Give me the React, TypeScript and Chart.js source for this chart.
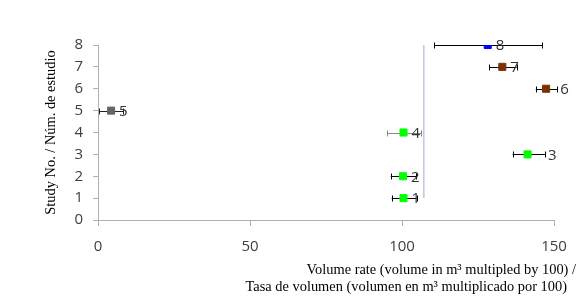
import React, { useEffect, useRef } from "react";
import { Chart, registerables } from "chart.js";

Chart.register(...registerables);

const studies = [1, 2, 3, 4, 5, 6, 7, 8];
const studyLabels = ["1", "2", "3", "4", "5", "6", "7", "8"];
const means = [100.5, 100.3, 141.3, 100.5, 4.3, 147.4, 133.0, 128.2];
const lower = [96.6, 96.3, 136.4, 95.2, 0.3, 144.0, 128.7, 110.6];
const upper = [104.8, 104.6, 147.0, 106.4, 8.3, 151.1, 137.7, 146.1];
const pointColors = ["#00FF00", "#00FF00", "#00FF00", "#00FF00", "#666666", "#7A3300", "#7A3300", "#0000FF"];
const barColors = ["#000000", "#000000", "#000000", "#888888", "#222222", "#000000", "#000000", "#000000"];
// studies whose label sits beyond the end of the error bar
const labelsPastBar = [3, 6];
const refValue = 107.2;
const refRange = [1, 8];
const xTitle = ["Volume rate (volume in m\u00B3 multipled by 100) /", "Tasa de volumen (volumen en m\u00B3 multiplicado por 100)"];
const yTitle = "Study No. / N\u00FAm. de estudio";

const TICK_FONT = "'Open Sans'";
const TITLE_FONT = "'Liberation Serif'";
const TITLE_SIZE = 14.4;

const errorBarPlugin = {
  id: "errorBars",
  beforeDatasetsDraw(chart: any) {
    const { ctx, scales } = chart;
    const xs = scales.x;
    const ys = scales.y;
    ctx.save();
    ctx.lineWidth = 1;
    studies.forEach((s, i) => {
      const y = Math.round(ys.getPixelForValue(s)) + 0.5;
      const x1 = xs.getPixelForValue(lower[i]);
      const x2 = xs.getPixelForValue(upper[i]);
      ctx.strokeStyle = barColors[i];
      ctx.beginPath();
      ctx.moveTo(x1, y);
      ctx.lineTo(x2, y);
      const c1 = Math.round(x1) + 0.5;
      const c2 = Math.round(x2) + 0.5;
      ctx.moveTo(c1, y - 3);
      ctx.lineTo(c1, y + 3);
      ctx.moveTo(c2, y - 3);
      ctx.lineTo(c2, y + 3);
      ctx.stroke();
    });
    ctx.restore();
  },
  afterDatasetsDraw(chart: any) {
    const { ctx, scales } = chart;
    const xs = scales.x;
    const ys = scales.y;
    ctx.save();
    ctx.font = "15px " + TICK_FONT;
    ctx.fillStyle = "#333333";
    ctx.textAlign = "left";
    ctx.textBaseline = "middle";
    studies.forEach((s, i) => {
      const past = labelsPastBar.includes(s);
      const x = past ? xs.getPixelForValue(upper[i]) + 3 : xs.getPixelForValue(means[i]) + 8;
      const y = ys.getPixelForValue(s);
      ctx.fillText(studyLabels[i], x, y + 1);
    });
    ctx.restore();
  },
  afterDraw(chart: any) {
    const { ctx } = chart;
    ctx.save();
    ctx.font = TITLE_SIZE + "px " + TITLE_FONT;
    ctx.fillStyle = "#000000";
    ctx.textAlign = "right";
    ctx.textBaseline = "middle";
    ctx.fillText(xTitle[0], 576, 270);
    ctx.fillText(xTitle[1], 567, 287);
    ctx.restore();
  },
};

export default function App() {
  const ref = useRef<HTMLCanvasElement>(null);
  useEffect(() => {
    document.body.style.margin = "0";
    const chart = new Chart(ref.current!, {
      type: "scatter",
      data: {
        datasets: [
          {
            type: "line",
            data: refRange.map((y) => ({ x: refValue, y })),
            borderColor: "#A8A8C8",
            borderWidth: 1,
            pointRadius: 0,
            fill: false,
          } as any,
          {
            data: studies.map((s, i) => ({ x: means[i], y: s })),
            pointStyle: "rect",
            pointRadius: 5,
            pointHoverRadius: 5,
            backgroundColor: pointColors,
            borderColor: pointColors,
            borderWidth: 1,
          },
        ],
      },
      options: {
        animation: false,
        responsive: false,
        maintainAspectRatio: false,
        layout: { padding: { top: 45, right: 31, left: 0, bottom: 0 } },
        plugins: { legend: { display: false }, tooltip: { enabled: false } },
        scales: {
          x: {
            type: "linear",
            min: 0,
            max: 150,
            ticks: { stepSize: 50, padding: 12, color: "#404040", font: { family: TICK_FONT, size: 15 } },
            grid: { display: true, drawOnChartArea: false, tickLength: 6, color: "#B0B0B0" },
            border: { color: "#B0B0B0" },
            afterFit: (s: any) => {
              s.height = 79;
            },
          },
          y: {
            type: "linear",
            min: 0,
            max: 8,
            ticks: { stepSize: 1, padding: 10, color: "#404040", font: { family: TICK_FONT, size: 15 } },
            grid: { display: true, drawOnChartArea: false, tickLength: 5, color: "#B0B0B0" },
            border: { color: "#B0B0B0" },
            title: {
              display: true,
              text: yTitle,
              color: "#000000",
              font: { family: TITLE_FONT, size: TITLE_SIZE },
              padding: { top: 43, bottom: 0 },
            },
            afterFit: (s: any) => {
              s.width = 98;
            },
          },
        },
      } as any,
      plugins: [errorBarPlugin],
    });
    return () => chart.destroy();
  }, []);
  return (
    <div style={{ position: "absolute", left: 0, top: 0, width: 585, height: 299 }}>
      <canvas ref={ref} width={585} height={299} style={{ width: 585, height: 299 }} />
    </div>
  );
}
